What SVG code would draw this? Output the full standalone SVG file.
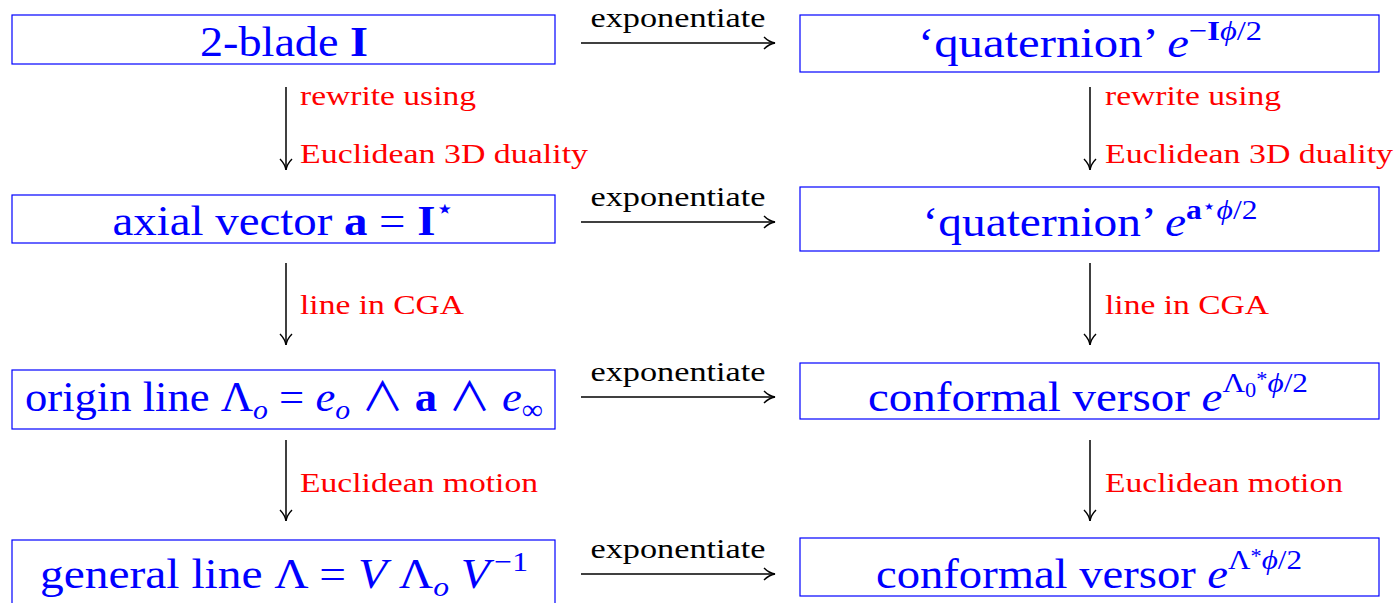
<svg xmlns="http://www.w3.org/2000/svg" width="1399" height="603" viewBox="0 0 1399 603">
<style>
.box{fill:#fff;stroke:#0000ff;stroke-width:1.2}
.t{font-family:"Liberation Serif",serif;font-size:42px;fill:#0000ff;text-anchor:middle}
.b{font-weight:bold}
.i{font-style:italic}
.s{font-size:28px}
.ss{font-size:20px}
.w{font-family:"Noto Sans CJK JP","DejaVu Sans",sans-serif;font-weight:normal;font-style:normal;font-size:40px}
.lab{font-family:"Liberation Serif",serif;font-size:28px;fill:#ff0000}
.ex{font-family:"Liberation Serif",serif;font-size:27px;fill:#000;text-anchor:middle}
.ar{stroke:#000;stroke-width:1.5;fill:none}
</style>
<defs>
<marker id="ah" viewBox="0 0 14 14" refX="13" refY="7" markerWidth="14" markerHeight="14" markerUnits="userSpaceOnUse" orient="auto">
<path d="M2,1 Q7,6 13,7 Q7,8 2,13" fill="none" stroke="#000" stroke-width="1.4"/>
</marker>
</defs>
<rect width="1399" height="603" fill="#fff"/>
<g id="connectors">
<line class="ar" x1="581" y1="43" x2="775" y2="43" marker-end="url(#ah)"/>
<line class="ar" x1="581" y1="222" x2="775" y2="222" marker-end="url(#ah)"/>
<line class="ar" x1="581" y1="397" x2="775" y2="397" marker-end="url(#ah)"/>
<line class="ar" x1="581" y1="574" x2="775" y2="574" marker-end="url(#ah)"/>
<text class="ex" x="678" y="27" textLength="175" lengthAdjust="spacingAndGlyphs">exponentiate</text>
<text class="ex" x="678" y="206" textLength="175" lengthAdjust="spacingAndGlyphs">exponentiate</text>
<text class="ex" x="678" y="381" textLength="175" lengthAdjust="spacingAndGlyphs">exponentiate</text>
<text class="ex" x="678" y="558" textLength="175" lengthAdjust="spacingAndGlyphs">exponentiate</text>
<line class="ar" x1="286" y1="87" x2="286" y2="170" marker-end="url(#ah)"/>
<line class="ar" x1="1090" y1="87" x2="1090" y2="170" marker-end="url(#ah)"/>
<line class="ar" x1="286" y1="263" x2="286" y2="345" marker-end="url(#ah)"/>
<line class="ar" x1="1090" y1="263" x2="1090" y2="345" marker-end="url(#ah)"/>
<line class="ar" x1="286" y1="440" x2="286" y2="521" marker-end="url(#ah)"/>
<line class="ar" x1="1090" y1="440" x2="1090" y2="521" marker-end="url(#ah)"/>
<text class="lab" x="300" y="105" textLength="176" lengthAdjust="spacingAndGlyphs">rewrite using</text>
<text class="lab" x="300" y="163" textLength="288" lengthAdjust="spacingAndGlyphs">Euclidean 3D duality</text>
<text class="lab" x="1105" y="105" textLength="176" lengthAdjust="spacingAndGlyphs">rewrite using</text>
<text class="lab" x="1105" y="163" textLength="288" lengthAdjust="spacingAndGlyphs">Euclidean 3D duality</text>
<text class="lab" x="300" y="314" textLength="164" lengthAdjust="spacingAndGlyphs">line in CGA</text>
<text class="lab" x="1105" y="314" textLength="164" lengthAdjust="spacingAndGlyphs">line in CGA</text>
<text class="lab" x="300" y="492" textLength="238" lengthAdjust="spacingAndGlyphs">Euclidean motion</text>
<text class="lab" x="1105" y="492" textLength="238" lengthAdjust="spacingAndGlyphs">Euclidean motion</text>
</g>
<g id="n1">
<rect class="box" x="12" y="15" width="543" height="49"/>
<text class="t" x="284" y="56" textLength="168" lengthAdjust="spacingAndGlyphs">2-blade <tspan class="b">I</tspan></text>
</g>
<g id="n2">
<rect class="box" x="800" y="15" width="579" height="57"/>
<text class="t" x="1090" y="57" textLength="344" lengthAdjust="spacingAndGlyphs">‘quaternion’ <tspan class="i">e</tspan><tspan class="s" dy="-17">−<tspan class="b">I</tspan><tspan class="i">ϕ</tspan>/2</tspan></text>
</g>
<g id="n3">
<rect class="box" x="12" y="195" width="543" height="48"/>
<text class="t" x="284" y="235" textLength="343" lengthAdjust="spacingAndGlyphs">axial vector <tspan class="b">a</tspan> = <tspan class="b">I</tspan><tspan class="s" dy="-17">⋆</tspan></text>
</g>
<g id="n4">
<rect class="box" x="800" y="187" width="579" height="64"/>
<text class="t" x="1090" y="236" textLength="335" lengthAdjust="spacingAndGlyphs">‘quaternion’ <tspan class="i">e</tspan><tspan class="s b" dy="-17">a</tspan><tspan class="ss" dy="-6">⋆</tspan><tspan class="s i" dy="6">ϕ</tspan><tspan class="s">/2</tspan></text>
</g>
<g id="n5">
<rect class="box" x="12" y="370" width="543" height="59"/>
<text class="t" x="284" y="411" textLength="518" lengthAdjust="spacingAndGlyphs">origin line Λ<tspan class="s i" dy="8">o</tspan><tspan dy="-8"> = </tspan><tspan class="i">e</tspan><tspan class="s i" dy="8">o</tspan><tspan dy="-8"> </tspan><tspan class="w">∧</tspan> <tspan class="b">a</tspan> <tspan class="w">∧</tspan> <tspan class="i">e</tspan><tspan class="s" dy="8">∞</tspan></text>
</g>
<g id="n6">
<rect class="box" x="800" y="363" width="579" height="56"/>
<text class="t" x="1088" y="411" textLength="440" lengthAdjust="spacingAndGlyphs">conformal versor <tspan class="i">e</tspan><tspan class="s" dy="-19">Λ</tspan><tspan class="ss" dy="5">0</tspan><tspan class="ss" dy="-11">*</tspan><tspan class="s i" dy="6">ϕ</tspan><tspan class="s">/2</tspan></text>
</g>
<g id="n7">
<rect class="box" x="12" y="540" width="543" height="70"/>
<text class="t" x="284" y="588" textLength="488" lengthAdjust="spacingAndGlyphs">general line Λ = <tspan class="i">V</tspan> Λ<tspan class="s i" dy="8">o</tspan><tspan dy="-8"> </tspan><tspan class="i">V</tspan><tspan class="s" dy="-17" dx="4">−1</tspan></text>
</g>
<g id="n8">
<rect class="box" x="800" y="538" width="579" height="58"/>
<text class="t" x="1089" y="588" textLength="426" lengthAdjust="spacingAndGlyphs">conformal versor <tspan class="i">e</tspan><tspan class="s" dy="-19">Λ</tspan><tspan class="ss" dy="-6">*</tspan><tspan class="s i" dy="6">ϕ</tspan><tspan class="s">/2</tspan></text>
</g>
</svg>
